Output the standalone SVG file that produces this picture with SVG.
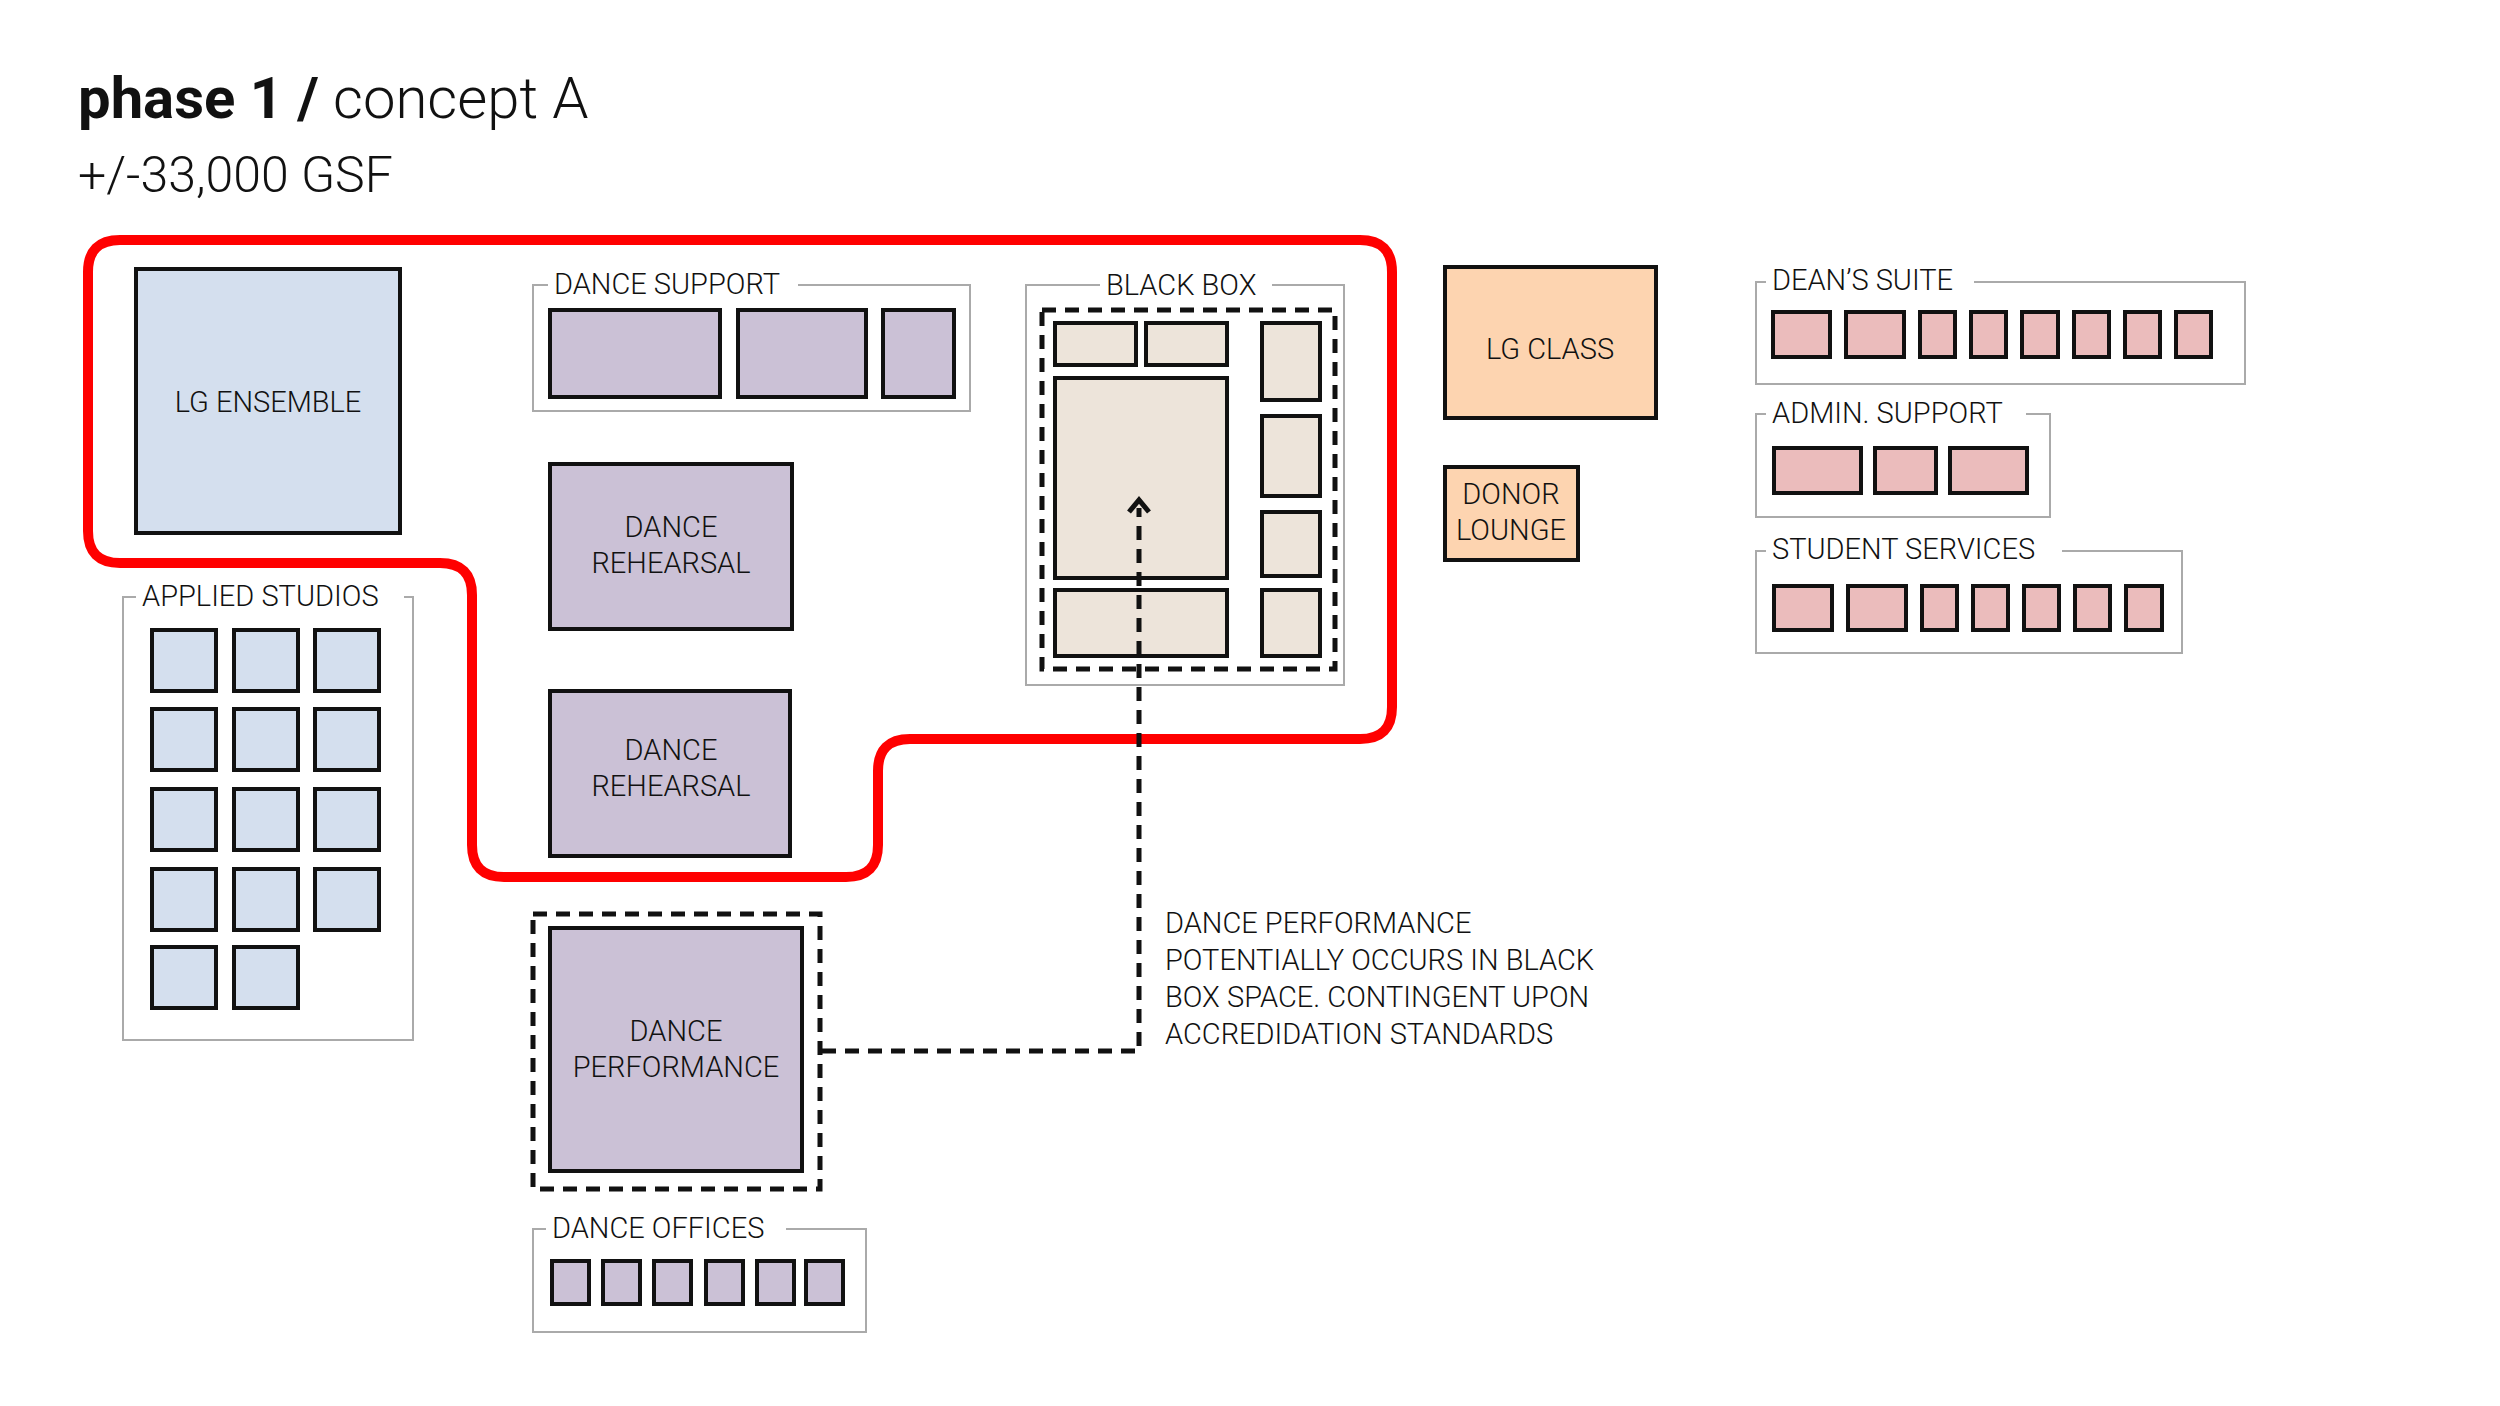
<svg xmlns="http://www.w3.org/2000/svg" width="2500" height="1406" viewBox="0 0 2500 1406">
<style>
text{font-family:Roboto,"DejaVu Sans",sans-serif;fill:#111}
.lbl{font-size:29px;font-weight:300}
.rm{stroke:#111;stroke-width:4}
.b{fill:#d4dfee}.p{fill:#cbc1d6}.e{fill:#ede4da}.o{fill:#fdd4b0}.k{fill:#ebbcbc}
.grp{fill:none;stroke:#aaa;stroke-width:2}
.gap{fill:#fff}
.dash{fill:none;stroke:#111;stroke-width:5;stroke-dasharray:14 9}
</style>
<rect width="2500" height="1406" fill="#fff"/>
<text x="78" y="118" font-size="58"><tspan font-weight="700">phase 1 /</tspan><tspan font-weight="300"> concept A</tspan></text>
<text x="78" y="192" font-size="50" font-weight="300">+/-33,000 GSF</text>

<path id="zone" d="M120 240 H1360 Q1392 240 1392 272 V707 Q1392 739 1360 739 H910 Q878 739 878 771 V845 Q878 877 846 877 H504 Q472 877 472 845 V595 Q472 563 440 563 H120 Q88 563 88 531 V272 Q88 240 120 240 Z" fill="none" stroke="#f00" stroke-width="10"/>

<g id="lg-ensemble"><rect class="rm b" x="136" y="269" width="264" height="264"/><text class="lbl" x="268" y="412" text-anchor="middle">LG ENSEMBLE</text></g>

<g id="dance-support"><rect class="grp" x="533" y="285" width="437" height="126"/><rect class="gap" x="548" y="270" width="250" height="30"/><text class="lbl" x="554" y="294">DANCE SUPPORT</text>
<rect class="rm p" x="550" y="310" width="170" height="87"/><rect class="rm p" x="738" y="310" width="128" height="87"/><rect class="rm p" x="883" y="310" width="71" height="87"/></g>

<g id="dance-rehearsal-1"><rect class="rm p" x="550" y="464" width="242" height="165"/><text class="lbl" x="671" y="537" text-anchor="middle">DANCE</text><text class="lbl" x="671" y="573" text-anchor="middle">REHEARSAL</text></g>
<g id="dance-rehearsal-2"><rect class="rm p" x="550" y="691" width="240" height="165"/><text class="lbl" x="671" y="760" text-anchor="middle">DANCE</text><text class="lbl" x="671" y="796" text-anchor="middle">REHEARSAL</text></g>

<g id="applied-studios"><rect class="grp" x="123" y="597" width="290" height="443"/><rect class="gap" x="136" y="580" width="268" height="30"/><text class="lbl" x="142" y="606">APPLIED STUDIOS</text>
<g class="rm b">
<rect x="152" y="630" width="64" height="61"/><rect x="234" y="630" width="64" height="61"/><rect x="315" y="630" width="64" height="61"/>
<rect x="152" y="709" width="64" height="61"/><rect x="234" y="709" width="64" height="61"/><rect x="315" y="709" width="64" height="61"/>
<rect x="152" y="789" width="64" height="61"/><rect x="234" y="789" width="64" height="61"/><rect x="315" y="789" width="64" height="61"/>
<rect x="152" y="869" width="64" height="61"/><rect x="234" y="869" width="64" height="61"/><rect x="315" y="869" width="64" height="61"/>
<rect x="152" y="947" width="64" height="61"/><rect x="234" y="947" width="64" height="61"/>
</g></g>

<g id="black-box"><rect class="grp" x="1026" y="285" width="318" height="400"/><rect class="gap" x="1100" y="270" width="172" height="30"/><text class="lbl" x="1106" y="295">BLACK BOX</text>
<rect class="dash" x="1042" y="310" width="293" height="359"/>
<g class="rm e">
<rect x="1055" y="323" width="81" height="42"/><rect x="1146" y="323" width="81" height="42"/>
<rect x="1055" y="378" width="172" height="200"/><rect x="1055" y="590" width="172" height="66"/>
<rect x="1262" y="323" width="58" height="77"/><rect x="1262" y="416" width="58" height="80"/><rect x="1262" y="512" width="58" height="64"/><rect x="1262" y="590" width="58" height="66"/>
</g></g>

<g id="dance-performance"><rect class="dash" x="533" y="914" width="287" height="275" stroke-width="6"/><rect class="rm p" x="550" y="928" width="252" height="243"/><text class="lbl" x="676" y="1041" text-anchor="middle">DANCE</text><text class="lbl" x="676" y="1077" text-anchor="middle">PERFORMANCE</text></g>

<g id="dance-offices"><rect class="grp" x="533" y="1229" width="333" height="103"/><rect class="gap" x="546" y="1214" width="240" height="30"/><text class="lbl" x="552" y="1238">DANCE OFFICES</text>
<g class="rm p"><rect x="552" y="1261" width="37" height="43"/><rect x="603" y="1261" width="37" height="43"/><rect x="654" y="1261" width="37" height="43"/><rect x="706" y="1261" width="37" height="43"/><rect x="757" y="1261" width="37" height="43"/><rect x="806" y="1261" width="37" height="43"/></g></g>

<g id="connectors">
<path class="dash" d="M822 1051 H1139 V508"/>
<path d="M1129 512 L1139 500 L1149 512" fill="none" stroke="#111" stroke-width="5"/>
</g>

<g id="note"><text class="lbl" x="1165" y="933">DANCE PERFORMANCE</text><text class="lbl" x="1165" y="970">POTENTIALLY OCCURS IN BLACK</text><text class="lbl" x="1165" y="1007">BOX SPACE. CONTINGENT UPON</text><text class="lbl" x="1165" y="1044">ACCREDIDATION STANDARDS</text></g>

<g id="lg-class"><rect class="rm o" x="1445" y="267" width="211" height="151"/><text class="lbl" x="1550" y="359" text-anchor="middle">LG CLASS</text></g>
<g id="donor-lounge"><rect class="rm o" x="1445" y="467" width="133" height="93"/><text class="lbl" x="1511" y="504" text-anchor="middle">DONOR</text><text class="lbl" x="1511" y="540" text-anchor="middle">LOUNGE</text></g>

<g id="deans-suite"><rect class="grp" x="1756" y="282" width="489" height="102"/><rect class="gap" x="1766" y="266" width="208" height="30"/><text class="lbl" x="1772" y="290">DEAN’S SUITE</text>
<g class="rm k"><rect x="1773" y="312" width="57" height="45"/><rect x="1846" y="312" width="58" height="45"/><rect x="1920" y="312" width="35" height="45"/><rect x="1971" y="312" width="35" height="45"/><rect x="2022" y="312" width="36" height="45"/><rect x="2074" y="312" width="35" height="45"/><rect x="2125" y="312" width="35" height="45"/><rect x="2176" y="312" width="35" height="45"/></g></g>

<g id="admin-support"><rect class="grp" x="1756" y="414" width="294" height="103"/><rect class="gap" x="1766" y="398" width="260" height="30"/><text class="lbl" x="1772" y="423">ADMIN. SUPPORT</text>
<g class="rm k"><rect x="1774" y="448" width="87" height="45"/><rect x="1875" y="448" width="61" height="45"/><rect x="1950" y="448" width="77" height="45"/></g></g>

<g id="student-services"><rect class="grp" x="1756" y="551" width="426" height="102"/><rect class="gap" x="1766" y="535" width="296" height="30"/><text class="lbl" x="1772" y="559">STUDENT SERVICES</text>
<g class="rm k"><rect x="1774" y="586" width="58" height="44"/><rect x="1848" y="586" width="58" height="44"/><rect x="1922" y="586" width="35" height="44"/><rect x="1973" y="586" width="35" height="44"/><rect x="2024" y="586" width="35" height="44"/><rect x="2075" y="586" width="35" height="44"/><rect x="2126" y="586" width="36" height="44"/></g></g>
</svg>
